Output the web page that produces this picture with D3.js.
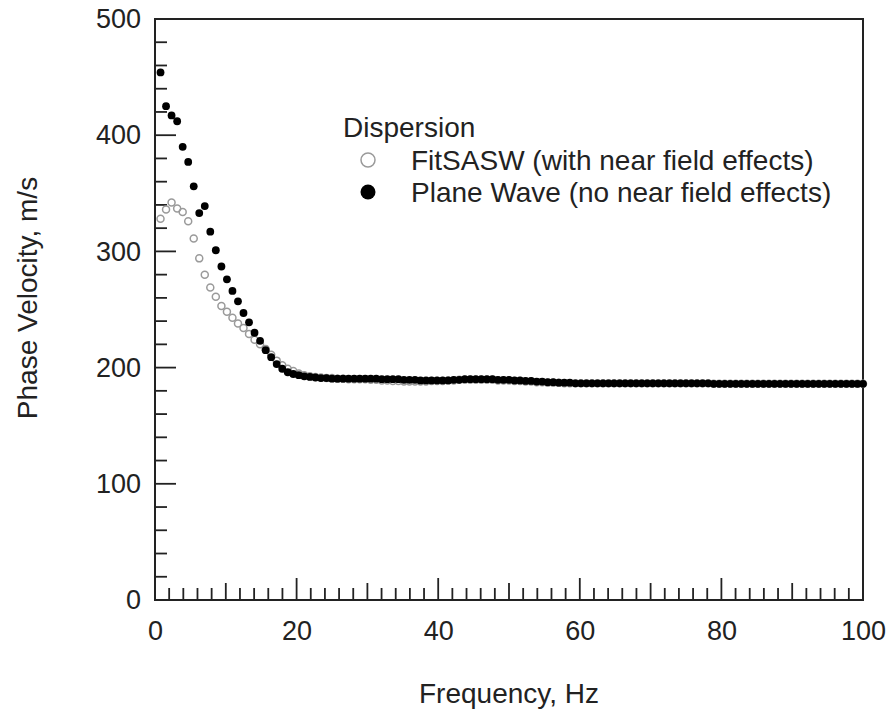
<!DOCTYPE html>
<html lang="en">
<head>
    <meta charset="UTF-8">
    <title>Dispersion</title>
    <script src="https://d3js.org/d3.v7.min.js"></script>
    <style>
      body{ margin:0; background:#fff; }
      svg text{ font-family: "Liberation Sans", Arial, sans-serif; fill:#222; }
    </style>
</head>
<body>
    <script>
        // frequency bins (Hz)
        const freq = [0.78,1.56,2.34,3.13,3.91,4.69,5.47,6.25,7.03,7.81,
            8.59,9.38,10.16,10.94,11.72,12.5,13.28,14.06,14.84,15.63,
            16.41,17.19,17.97,18.75,19.53,20.31,21.09,21.88,22.66,23.44,
            24.22,25,25.78,26.56,27.34,28.13,28.91,29.69,30.47,31.25,
            32.03,32.81,33.59,34.38,35.16,35.94,36.72,37.5,38.28,39.06,
            39.84,40.63,41.41,42.19,42.97,43.75,44.53,45.31,46.09,46.88,
            47.66,48.44,49.22,50,50.78,51.56,52.34,53.13,53.91,54.69,
            55.47,56.25,57.03,57.81,58.59,59.38,60.16,60.94,61.72,62.5,
            63.28,64.06,64.84,65.63,66.41,67.19,67.97,68.75,69.53,70.31,
            71.09,71.88,72.66,73.44,74.22,75,75.78,76.56,77.34,78.13,
            78.91,79.69,80.47,81.25,82.03,82.81,83.59,84.38,85.16,85.94,
            86.72,87.5,88.28,89.06,89.84,90.63,91.41,92.19,92.97,93.75,
            94.53,95.31,96.09,96.88,97.66,98.44,99.22,100];

        // FitSASW (with near field effects), m/s
        const fitSASW = [328,336,342,337,334,326,311,294,280,269,
            261,253,248,243,238,234,229,224,220,216,
            211,206,202,199,197,195,193.5,192.5,192,191.5,
            191,191,190.5,190.5,190,190,190,190,189.5,189.5,
            189,189,188.5,188.5,188,188,188,188,188,188.5,
            188.5,188.5,189,189,189.5,189.5,189.5,189.5,189.5,189.5,
            189.5,189,189,189,188.5,188.5,188,188,187.5,187.5,
            187,187,187,186.5,186.5,186.5,186.5,186.5,186.5,186.5,
            186.5,186.5,186.5,186.5,186.5,186.5,186.5,186.5,186.5,186.5,
            186.5,186.5,186.5,186.5,186.5,186.5,186.5,186.5,186.5,186.5,
            186,186,186,186,186,186,186,186,186,186,
            186,186,186,186,186,186,186,186,186,186,
            186,186,186,186,186,186,186,186];

        // Plane Wave (no near field effects), m/s
        const planeWave = [454,425,417,412,390,377,356,333,339,317,
            301,287,276,266,257,247,239,230,223,215,
            209,203,199,196,194.5,193.5,192.5,192,191.5,191,
            191,190.5,190.5,190.5,190.5,190.5,190.5,190.5,190.5,190.5,
            190,190,190,190,189.5,189.5,189.5,189,189,189,
            189,189,189,189.5,189.5,190,190,190,190,190,
            190,189.5,189.5,189.5,189,189,188.5,188.5,188,188,
            187.5,187.5,187,187,187,186.5,186.5,186.5,186.5,186.5,
            186.5,186.5,186.5,186.5,186.5,186.5,186.5,186.5,186.5,186.5,
            186.5,186.5,186.5,186.5,186.5,186.5,186.5,186.5,186.5,186.5,
            186,186,186,186,186,186,186,186,186,186,
            186,186,186,186,186,186,186,186,186,186,
            186,186,186,186,186,186,186,186];

        const xTicks = [0,20,40,60,80,100];
        const yTicks = [0,100,200,300,400,500];
        const legendTitle = "Dispersion";
        const seriesNames = ["FitSASW (with near field effects)", "Plane Wave (no near field effects)"];

        const width = 890, height = 713;
        const margin = {top: 19, right: 27, bottom: 113, left: 155};
        const iw = width - margin.left - margin.right;
        const ih = height - margin.top - margin.bottom;

        const svg = d3.select("body").append("svg")
            .attr("width", width)
            .attr("height", height);
        const g = svg.append("g")
            .attr("transform", `translate(${margin.left},${margin.top})`);

        const x = d3.scaleLinear().domain([0,100]).range([0, iw]);
        const y = d3.scaleLinear().domain([0,500]).range([ih, 0]);

        // minor ticks (inward)
        const xMinor = d3.range(0, 101, 2);
        g.append("g").selectAll("line")
            .data(xMinor)
            .join("line")
            .attr("x1", d => x(d)).attr("x2", d => x(d))
            .attr("y1", ih)
            .attr("y2", d => ih - (d % 20 === 0 ? 22 : d % 10 === 0 ? 17 : 12))
            .attr("stroke", "#222").attr("stroke-width", 1.8);

        const yMinor = d3.range(0, 501, 20);
        g.append("g").selectAll("line")
            .data(yMinor)
            .join("line")
            .attr("x1", 0)
            .attr("x2", d => d % 100 === 0 ? 21 : 12)
            .attr("y1", d => y(d)).attr("y2", d => y(d))
            .attr("stroke", "#222").attr("stroke-width", 1.8);

        // axis labels
        const xAxis = g.append("g")
            .attr("transform", `translate(0,${ih})`)
            .call(d3.axisBottom(x).tickValues(xTicks).tickSize(0).tickPadding(21));
        const yAxis = g.append("g")
            .call(d3.axisLeft(y).tickValues(yTicks).tickSize(0).tickPadding(14));
        [xAxis, yAxis].forEach(a => {
            a.select(".domain").remove();
            a.selectAll("text").style("font-size", "27px").attr("fill", "#222");
        });

        // frame
        g.append("rect")
            .attr("width", iw).attr("height", ih)
            .attr("fill", "none")
            .attr("stroke", "#222").attr("stroke-width", 2);

        // data
        const fitData = freq.map((f,i) => [f, fitSASW[i]]);
        const pwData = freq.map((f,i) => [f, planeWave[i]]);

        g.append("g").selectAll("circle")
            .data(fitData)
            .join("circle")
            .attr("cx", d => x(d[0]))
            .attr("cy", d => y(d[1]))
            .attr("r", 3.5)
            .attr("fill", "none")
            .attr("stroke", "#9a9a9a")
            .attr("stroke-width", 1.5);

        g.append("g").selectAll("circle")
            .data(pwData)
            .join("circle")
            .attr("cx", d => x(d[0]))
            .attr("cy", d => y(d[1]))
            .attr("r", 3.9)
            .attr("fill", "#000");

        // axis titles
        svg.append("text")
            .attr("x", margin.left + iw/2)
            .attr("y", 703)
            .attr("text-anchor", "middle")
            .style("font-size", "28px")
            .text("Frequency, Hz");
        svg.append("text")
            .attr("transform", "translate(37,298) rotate(-90)")
            .attr("text-anchor", "middle")
            .style("font-size", "28px")
            .text("Phase Velocity, m/s");

        // legend
        const lg = svg.append("g");
        lg.append("text")
            .attr("x", 343).attr("y", 137)
            .style("font-size", "28px")
            .text(legendTitle);
        lg.append("circle")
            .attr("cx", 368).attr("cy", 160).attr("r", 7)
            .attr("fill", "none").attr("stroke", "#9a9a9a").attr("stroke-width", 1.5);
        lg.append("circle")
            .attr("cx", 368).attr("cy", 192).attr("r", 7.5)
            .attr("fill", "#000");
        lg.selectAll("text.item")
            .data(seriesNames)
            .join("text")
            .attr("class", "item")
            .attr("x", 411)
            .attr("y", (d,i) => 170 + i*32)
            .style("font-size", "28px")
            .text(d => d);
    </script>
</body>
</html>
